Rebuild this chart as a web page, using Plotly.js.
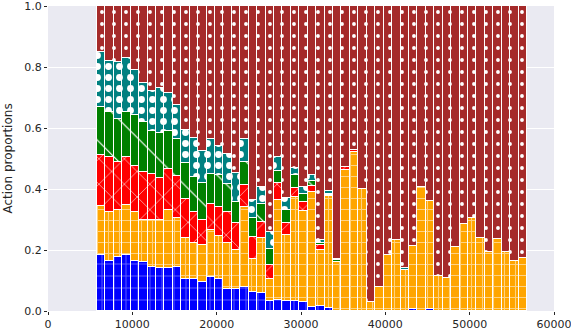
<!DOCTYPE html>
<html>
<head>
<meta charset="utf-8">
<script src="https://cdn.plot.ly/plotly-3.0.1.min.js"></script>
<style>
  html, body { margin: 0; padding: 0; background: #fff; }
  #plot { width: 571px; height: 330px; }
</style>
</head>
<body>
<div id="plot"></div>
<script>
// step at the centre of each bar
const steps = [6300, 7300, 8300, 9300, 10300, 11300, 12300, 13300, 14300, 15300,
  16300, 17300, 18300, 19300, 20300, 21300, 22300, 23300, 24300, 25300,
  26300, 27300, 28300, 29300, 30300, 31300, 32300, 33300, 34300, 35300,
  36300, 37300, 38300, 39300, 40300, 41300, 42300, 43300, 44300, 45300,
  46300, 47300, 48300, 49300, 50300, 51300, 52300, 53300, 54300, 55300, 56300];

// proportion of each action per bar (bottom to top)
const action0 = [.183, .163, .176, .182, .165, .162, .145, .140, .142, .143,
  .104, .106, .094, .110, .104, .072, .072, .080, .063, .060,
  .034, .036, .033, .033, .030, .014, .015, .009, 0, 0,
  0, 0, 0, 0, 0, 0, 0, .005, 0, .005,
  0, 0, 0, 0, 0, 0, 0, 0, 0, 0, 0];
const action1 = [.160, .162, .154, .166, .158, .137, .153, .160, .188, .161,
  .134, .116, .124, .156, .142, .152, .128, .262, .107, .178,
  .070, .328, .216, .341, .298, .375, .185, .368, .161, .462,
  .522, .399, .031, .080, .185, .234, .133, .209, .406, .357,
  .115, .108, .211, .285, .304, .240, .195, .236, .195, .164, .173];
const action2 = [.169, .180, .157, .158, .153, .157, .151, .135, .135, .139,
  .128, .104, .082, .084, .094, .102, .090, .071, .072, .055,
  .047, .055, .041, .028, .029, .021, .015, .003, 0, .009,
  .005, 0, 0, 0, 0, 0, 0, 0, 0, 0,
  0, 0, 0, 0, 0, 0, 0, 0, 0, 0, 0];
const action3 = [.158, .149, .144, .147, .167, .165, .142, .148, .126, .120,
  .118, .114, .119, .098, .106, .089, .068, .074, .064, .058,
  .051, .039, .041, .044, .026, .016, .009, .004, .005, 0,
  0, 0, 0, 0, 0, 0, 0, 0, 0, 0,
  0, 0, 0, 0, 0, 0, 0, 0, 0, 0, 0];
const action4 = [.180, .166, .184, .175, .146, .126, .129, .147, .125, .112,
  .109, .127, .107, .115, .095, .100, .095, .076, .058, .055,
  .056, .046, .041, .022, .023, .019, .009, .008, .004, .002,
  0, 0, 0, 0, 0, 0, .007, 0, 0, 0,
  0, 0, 0, 0, 0, 0, 0, 0, 0, 0, 0];
const action5 = [.150, .180, .185, .172, .211, .253, .280, .270, .284, .325,
  .407, .433, .474, .437, .459, .485, .547, .437, .636, .594,
  .742, .496, .628, .532, .594, .555, .767, .608, .830, .527,
  .473, .601, .969, .920, .815, .766, .860, .786, .594, .638,
  .885, .892, .789, .715, .696, .760, .805, .764, .805, .836, .827];

const series = [
  {name: 'action 0', y: action0, color: '#0000ff',
    pattern: {shape: '+', fgcolor: 'rgba(255,255,255,0.4)', size: 12, solidity: 0.14}},
  {name: 'action 1', y: action1, color: '#ffa500',
    pattern: {shape: '+', fgcolor: 'rgba(255,255,255,0.5)', size: 11, solidity: 0.18}},
  {name: 'action 2', y: action2, color: '#ff0000',
    pattern: {shape: 'x', fgcolor: '#ffffff', size: 18, solidity: 0.06}},
  {name: 'action 3', y: action3, color: '#008000',
    pattern: {shape: '\\', fgcolor: '#ffffff', size: 30, solidity: 0.04}},
  {name: 'action 4', y: action4, color: '#008080',
    pattern: {shape: '.', fgcolor: '#ffffff', size: 11, solidity: 0.3}},
  {name: 'action 5', y: action5, color: '#a52a2a',
    pattern: {shape: '.', fgcolor: '#ffffff', size: 12, solidity: 0.08}}
];

const data = series.map(s => ({
  type: 'bar',
  name: s.name,
  x: steps,
  y: s.y,
  width: 1000,
  marker: {
    color: s.color,
    line: {color: '#ffffff', width: 1.2},
    pattern: Object.assign({bgcolor: s.color, fillmode: 'replace'}, s.pattern)
  },
  hoverinfo: 'x+y+name'
}));

const layout = {
  width: 571,
  height: 330,
  margin: {l: 48, r: 17, t: 6, b: 19},
  barmode: 'stack',
  bargap: 0,
  showlegend: false,
  paper_bgcolor: '#ffffff',
  plot_bgcolor: '#eaeaf2',
  font: {family: 'DejaVu Sans, sans-serif', size: 11, color: '#262626'},
  xaxis: {
    range: [0, 60000],
    tickvals: [0, 10000, 20000, 30000, 40000, 50000, 60000],
    ticktext: ['0', '10000', '20000', '30000', '40000', '50000', '60000'],
    ticks: 'outside',
    ticklen: 3,
    tickcolor: '#262626',
    ticklabeloverflow: 'allow',
    showgrid: true,
    gridcolor: '#ffffff',
    zeroline: false,
    showline: false
  },
  yaxis: {
    range: [0, 1],
    tickvals: [0, 0.2, 0.4, 0.6, 0.8, 1.0],
    ticktext: ['0.0', '0.2', '0.4', '0.6', '0.8', '1.0'],
    ticks: 'outside',
    ticklen: 3,
    tickcolor: '#262626',
    ticklabeloverflow: 'allow',
    showgrid: true,
    gridcolor: '#ffffff',
    zeroline: false,
    showline: false
  },
  annotations: [{
    text: 'Action proportions',
    xref: 'paper', yref: 'paper',
    x: -0.081, y: 0.5,
    xanchor: 'center', yanchor: 'middle',
    textangle: -90,
    showarrow: false,
    font: {size: 12, color: '#262626'}
  }]
};

Plotly.newPlot('plot', data, layout, {displayModeBar: false});
</script>
</body>
</html>
